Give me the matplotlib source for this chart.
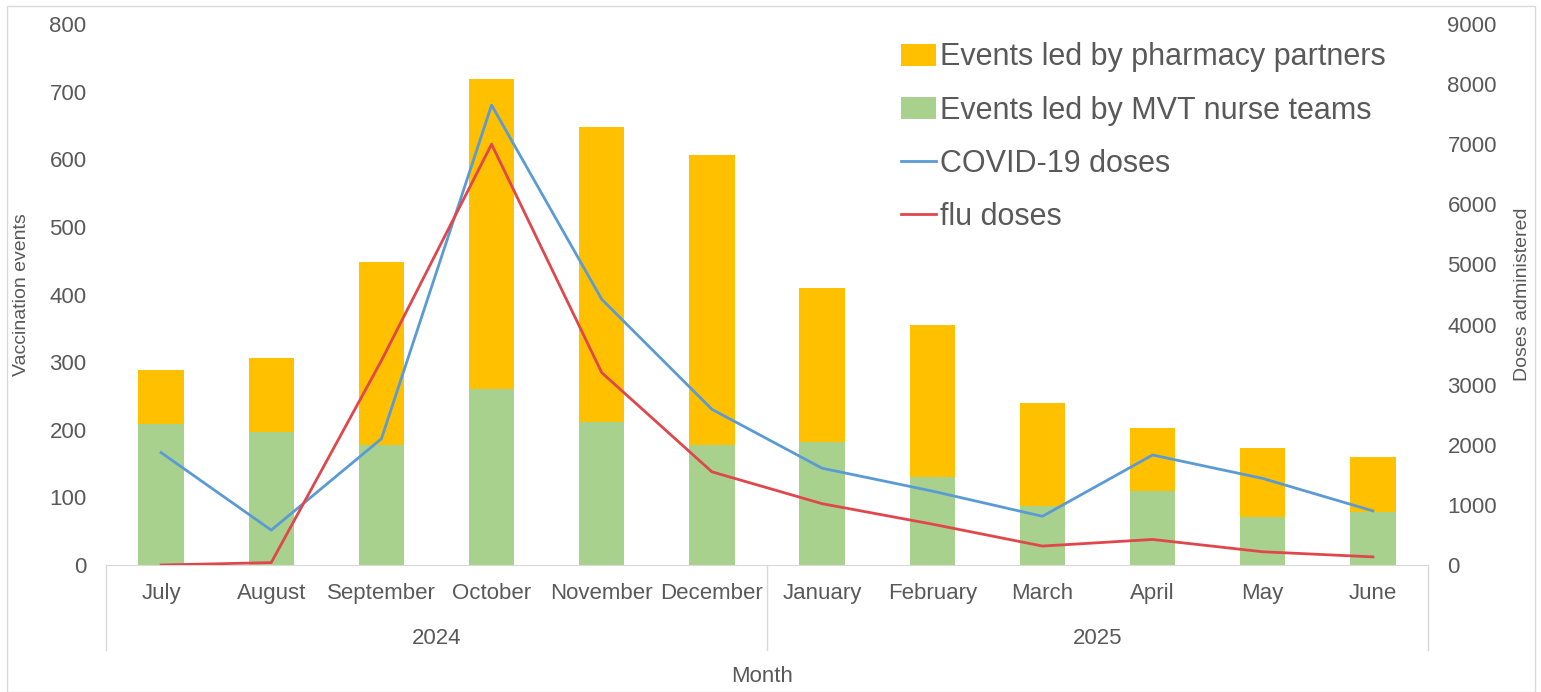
import matplotlib
matplotlib.use("Agg")
import matplotlib.pyplot as plt
import matplotlib.transforms as mtransforms
from matplotlib.patches import Rectangle
import numpy as np

# Data
months = ["July", "August", "September", "October", "November", "December",
          "January", "February", "March", "April", "May", "June"]
years = ["2024", "2025"]
year_spans = [(0, 5), (6, 11)]

nurse_events = [209, 196, 178, 260, 211, 178, 182, 130, 87, 110, 71, 78]
total_events = [289, 306, 448, 718, 648, 606, 410, 355, 239, 203, 173, 159]
pharmacy_events = [t - n for t, n in zip(total_events, nurse_events)]

covid_doses = [1870, 580, 2100, 7650, 4420, 2590, 1610, 1230, 810, 1830, 1440, 900]
flu_doses = [0, 40, 3400, 7000, 3200, 1550, 1020, 680, 315, 425, 220, 135]

YELLOW = "#FFC000"
GREEN = "#A9D18E"
BLUE = "#5B9BD5"
RED = "#E0474C"
TXT = "#595959"

plt.rcParams["font.family"] = ["Liberation Sans", "DejaVu Sans"]

W, H = 1541, 692
fig = plt.figure(figsize=(W / 100, H / 100), dpi=100)
ax = fig.add_axes([106 / W, 1 - 565 / H, (1428 - 106) / W, (565 - 24) / H])
ax2 = ax.twinx()

x = np.arange(len(months))
b1 = ax.bar(x, nurse_events, width=0.41, color=GREEN, label="Events led by MVT nurse teams", zorder=2)
b2 = ax.bar(x, pharmacy_events, width=0.41, bottom=nurse_events, color=YELLOW,
            label="Events led by pharmacy partners", zorder=2)

l1, = ax2.plot(x, covid_doses, color=BLUE, lw=2, label="COVID-19 doses")
l2, = ax2.plot(x, flu_doses, color=RED, lw=2, label="flu doses")

ax.set_xlim(-0.5, len(months) - 0.5)
ax.set_ylim(0, 800)
ax2.set_ylim(0, 9000)
ax.set_yticks(range(0, 801, 100))
ax2.set_yticks(range(0, 9001, 1000))

for a in (ax, ax2):
    for s in a.spines.values():
        s.set_visible(False)
    a.tick_params(axis="y", length=0, labelsize=16, labelcolor=TXT)
ax.spines["bottom"].set_visible(True)
ax.spines["bottom"].set_color("#D9D9D9")
ax.tick_params(axis="y", pad=14)
ax2.tick_params(axis="y", pad=14)

ax.set_xticks(x)
ax.set_xticklabels(months)
ax.tick_params(axis="x", length=0, labelsize=16, labelcolor=TXT, pad=13)

ax.set_ylabel("Vaccination events", fontsize=14, color=TXT, labelpad=14)
ax2.set_ylabel("Doses administered", fontsize=14, color=TXT, labelpad=12)

# two level category axis: year labels and dividers
trans = mtransforms.blended_transform_factory(ax.transData, ax.transAxes)
for yr, (a0, a1) in zip(years, year_spans):
    ax.text((a0 + a1) / 2, -0.135, yr, transform=trans, ha="center", va="center",
            fontsize=16, color=TXT)
for xb in (-0.5, 5.5, 11.5):
    ax.plot([xb, xb], [0, -0.157], transform=trans, color="#D9D9D9", lw=1, clip_on=False)

fig.text(762 / W, 1 - 676 / H, "Month", ha="center", va="center", fontsize=16, color=TXT)

ax.set_zorder(ax2.get_zorder() - 1)
ax.patch.set_visible(False)

leg = ax2.legend(handles=[b2, b1, l1, l2], loc="upper left",
                 bbox_to_anchor=(873 / W, 1 - 15 / H), bbox_transform=fig.transFigure,
                 frameon=False, fontsize=22, labelcolor=TXT, handlelength=1.15,
                 handletextpad=0.15, labelspacing=0.76)

fig.patches.append(Rectangle((7 / W, 0), (1535 - 7) / W, 1 - 6 / H, transform=fig.transFigure,
                             fill=False, edgecolor="#D9D9D9", lw=1))

fig.savefig("out.png", dpi=100)
